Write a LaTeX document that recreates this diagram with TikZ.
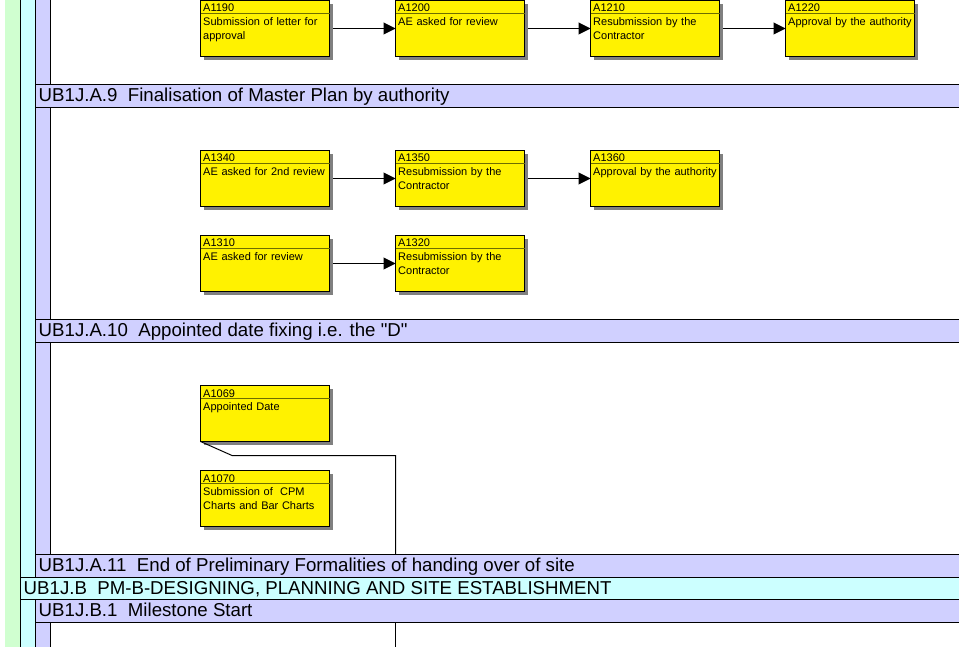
\documentclass[tikz,border=0pt]{standalone}
\usepackage{fontspec}
\setmainfont{Liberation Sans}
\newfontfamily\rawfont{Liberation Sans}
\usetikzlibrary{arrows.meta,shadows}
\definecolor{lav}{RGB}{208,208,255}
\definecolor{cyn}{RGB}{204,255,255}
\definecolor{grn}{RGB}{208,255,208}
\definecolor{divc}{RGB}{110,110,0}
\tikzset{
  actbox/.style={rectangle,draw=black,fill=yellow,line width=1pt,minimum width=129pt,minimum height=56pt,
    anchor=north west,inner sep=0pt,outer sep=0pt,
    drop shadow={shadow xshift=3.5pt,shadow yshift=-3.5pt,fill=black!50,opacity=1}},
  divider/.style={draw=divc,line width=0.7pt},
  idtext/.style={anchor=base west,inner sep=0pt,font=\fontsize{11}{14}\selectfont},
  desctext/.style={anchor=base west,inner sep=0pt,align=left,text width=126pt,font=\fontsize{11}{14}\selectfont},
  flow/.style={line width=1pt,-{Triangle[length=12pt,width=12pt]}},
  link/.style={line width=1pt},
  lavband/.style={rectangle,draw=black,fill=lav,line width=1pt,anchor=north west,inner sep=0pt,outer sep=0pt,minimum width=940pt},
  cynband/.style={rectangle,draw=black,fill=cyn,line width=1pt,anchor=north west,inner sep=0pt,outer sep=0pt,minimum width=960pt},
  bandtext/.style={anchor=base west,inner sep=0pt,font=\rawfont\fontsize{18.67}{22}\selectfont},
}
\newcommand\actbox[5]{%
  \node[actbox] (#1) at (#2,#3) {};
  \draw[divider] ([yshift=-13pt]#1.north west) -- ([yshift=-13pt]#1.north east);
  \node[idtext] (#1-id) at ([xshift=2.5pt,yshift=-11.5pt]#1.north west) {#4};
  \node[desctext] (#1-txt) at ([xshift=2.5pt,yshift=-25pt]#1.north west) {#5};
}
\newcommand\lavbandat[4]{% name, top, height, text
  \node[lavband,minimum height=#3pt] (#1) at (35.5,#2) {};
  \node[bandtext] (#1-t) at (38.5,#2+17) {#4};
}
\begin{document}
\begin{tikzpicture}[x=1pt,y=-1pt]
\useasboundingbox (0,0) rectangle (959,647);
\fill[white] (0,0) rectangle (959,647);
% side stripes
\fill[grn] (5,0) rectangle (20.5,647);
\fill[cyn] (20.5,0) rectangle (35.5,647);
\fill[lav] (35.5,0) rectangle (50.5,647);
\draw[line width=1pt] (20.5,0) -- (20.5,647);
\draw[line width=1pt] (35.5,0) -- (35.5,647);
\draw[line width=1pt] (50.5,0) -- (50.5,647);
% connector end points
\coordinate (k1) at (232,455.5);
\coordinate (k2) at (395.5,554);
\coordinate (k3) at (395.5,622);
\coordinate (k4) at (395.5,647);
% bands
\lavbandat{b9}{84.5}{23}{UB1J.A.9\ \ Finalisation of Master Plan by authority}
\lavbandat{b10}{319.5}{23}{UB1J.A.10\ \ Appointed date fixing i.e. the "D"}
\lavbandat{b11}{554.5}{23}{UB1J.A.11\ \ End of Preliminary Formalities of handing over of site}
\node[cynband,minimum height=22pt] (bB) at (20.5,577.5) {};
\node[bandtext] (bB-t) at (23.5,594.5) {UB1J.B\ \ PM-B-DESIGNING, PLANNING AND SITE ESTABLISHMENT};
\lavbandat{bB1}{599.5}{23}{UB1J.B.1\ \ Milestone Start}
% activity boxes
\actbox{a1190}{200.5}{0.5}{A1190}{Submission of letter for\\approval}
\actbox{a1200}{395.5}{0.5}{A1200}{AE asked for review}
\actbox{a1210}{590.5}{0.5}{A1210}{Resubmission by the\\Contractor}
\actbox{a1220}{785.5}{0.5}{A1220}{Approval by the authority}
\actbox{a1340}{200.5}{150.5}{A1340}{AE asked for 2nd review}
\actbox{a1350}{395.5}{150.5}{A1350}{Resubmission by the\\Contractor}
\actbox{a1360}{590.5}{150.5}{A1360}{Approval by the authority}
\actbox{a1310}{200.5}{235.5}{A1310}{AE asked for review}
\actbox{a1320}{395.5}{235.5}{A1320}{Resubmission by the\\Contractor}
\actbox{a1069}{200.5}{385.5}{A1069}{Appointed Date}
\actbox{a1070}{200.5}{470.5}{A1070}{Submission of\ \ CPM\\Charts and Bar Charts}
% flows
\draw[flow] ([xshift=3.5pt]a1190.east) -- (a1200.west);
\draw[flow] ([xshift=3.5pt]a1200.east) -- (a1210.west);
\draw[flow] ([xshift=3.5pt]a1210.east) -- (a1220.west);
\draw[flow] ([xshift=3.5pt]a1340.east) -- (a1350.west);
\draw[flow] ([xshift=3.5pt]a1350.east) -- (a1360.west);
\draw[flow] ([xshift=3.5pt]a1310.east) -- (a1320.west);
\draw[link] (a1069.south west) -- (k1) -| (k2);
\draw[link] (k3) -- (k4);
\end{tikzpicture}
\end{document}
